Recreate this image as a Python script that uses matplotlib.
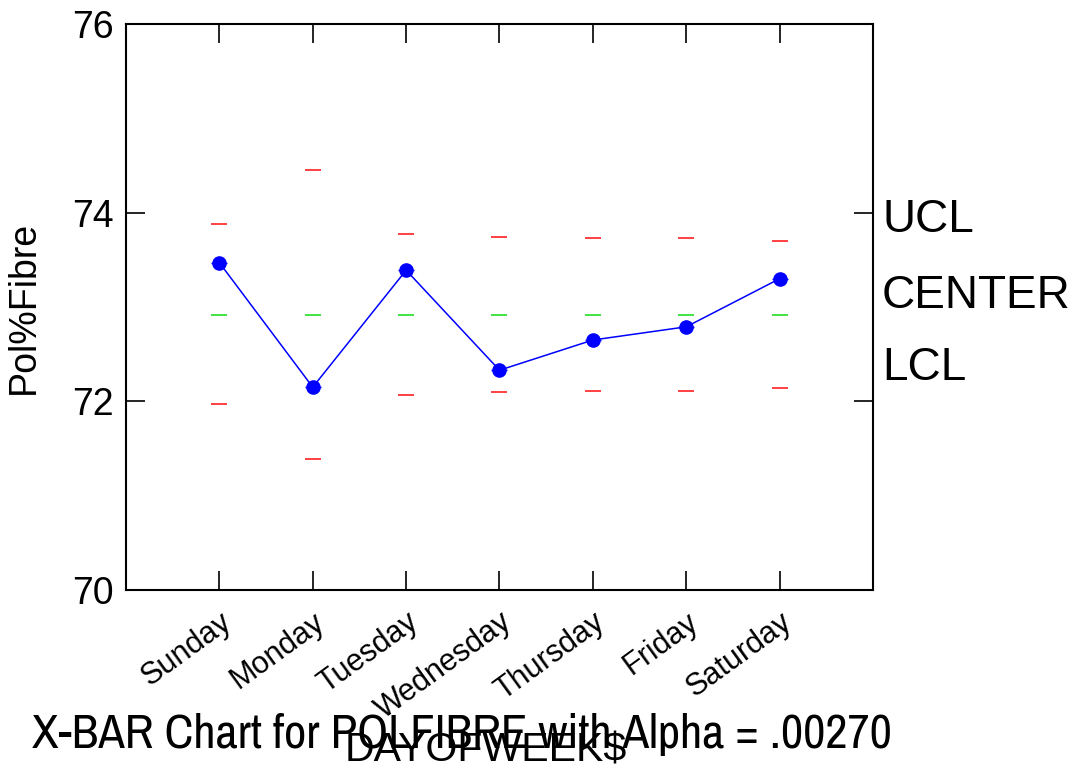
import matplotlib
matplotlib.use("Agg")
import matplotlib.pyplot as plt
import matplotlib.transforms as mtransforms
from matplotlib import font_manager
from matplotlib.font_manager import FontProperties

days = ["Sunday", "Monday", "Tuesday", "Wednesday", "Thursday", "Friday", "Saturday"]
means = [73.47, 72.15, 73.39, 72.33, 72.65, 72.79, 73.30]
ucl = [73.88, 74.45, 73.77, 73.74, 73.73, 73.73, 73.70]
lcl = [71.97, 71.39, 72.07, 72.10, 72.11, 72.11, 72.14]
center = [72.92] * 7
yticks = [70, 72, 74, 76]
title = "X-BAR Chart for POLFIBRE with Alpha = .00270"
xlabel = "DAYOFWEEK$"
ylabel = "Pol%Fibre"
side_labels = ["UCL", "CENTER", "LCL"]

names = {f.name for f in font_manager.fontManager.ttflist}
base = "Liberation Sans" if "Liberation Sans" in names else "DejaVu Sans"
narrow_fp = None
for f in font_manager.fontManager.ttflist:
    if "Liberation Sans Narrow" in f.name and f.weight in (400, 'normal') and f.style == 'normal':
        narrow_fp = FontProperties(fname=f.fname)
        break
if narrow_fp is None:
    for f in font_manager.fontManager.ttflist:
        n = (f.name + " " + f.fname).lower()
        if ("narrow" in n or "condensed" in n) and "bold" not in n and "italic" not in n \
                and "oblique" not in n and "light" not in n and "dejavu" not in n:
            narrow_fp = FontProperties(fname=f.fname)
            break

plt.rcParams['font.family'] = [base, 'DejaVu Sans']

W, H = 1079, 765
fig = plt.figure(figsize=(W / 100, H / 100), dpi=100)
ax = fig.add_axes([126 / W, 1 - 590 / H, (873 - 126) / W, (590 - 24) / H])

x = list(range(1, len(days) + 1))
ax.plot(x, ucl, linestyle='none', marker='_', markersize=11.5, markeredgewidth=1.2, color='#ff2020')
ax.plot(x, lcl, linestyle='none', marker='_', markersize=11.5, markeredgewidth=1.2, color='#ff2020')
ax.plot(x, center, linestyle='none', marker='_', markersize=11.5, markeredgewidth=1.2, color='#22dd22')
ax.plot(x, means, linestyle='none', marker='_', markersize=11.5, markeredgewidth=1.0, color='#0000ff')
ax.plot(x, means, color='#0000ff', linewidth=1.1, marker='o', markersize=9.5)

ax.set_xlim(0, len(days) + 1)
ax.set_ylim(70, 76)
ax.set_yticks(yticks)
ax.set_yticklabels([str(v) for v in yticks], fontsize=27)
ax.set_xticks(x)
ax.set_xticklabels(days, fontsize=22, rotation=36, ha='right', rotation_mode='anchor')
offset = mtransforms.ScaledTranslation(10 / 100, -3 / 100, fig.dpi_scale_trans)
for lab in ax.get_xticklabels():
    lab.set_transform(lab.get_transform() + offset)
ax.tick_params(axis='both', direction='in', length=13.5, width=1.2, color='black',
               top=True, right=True)
ax.tick_params(axis='y', pad=9)
ax.tick_params(axis='x', pad=12)
for s in ax.spines.values():
    s.set_linewidth(1.5)

ax.set_ylabel(ylabel, fontsize=27)
ax.yaxis.set_label_coords(-(126 - 42) / (873 - 126), 0.5)

for lab, yc in zip(side_labels, [220, 296, 368]):
    fig.text(882 / W, 1 - yc / H, lab, fontsize=33, ha='left', va='center')

if narrow_fp is not None:
    t = fig.text(462 / W, 1 - 748 / H, title, fontproperties=narrow_fp, fontsize=36,
                 ha='center', va='baseline')
else:
    t = fig.text(462 / W, 1 - 748 / H, title, fontsize=30, ha='center', va='baseline')
xl = fig.text(486 / W, 1 - 762 / H, xlabel, fontsize=28, ha='center', va='baseline')

# fit title width to ~860 px
fig.canvas.draw()
r = fig.canvas.get_renderer()
for _ in range(3):
    wpx = t.get_window_extent(r).width
    t.set_fontsize(t.get_fontsize() * 860 / wpx)
    fig.canvas.draw()
wpx = xl.get_window_extent(r).width
xl.set_fontsize(xl.get_fontsize() * 282 / wpx)

fig.savefig("out.png", dpi=100)
